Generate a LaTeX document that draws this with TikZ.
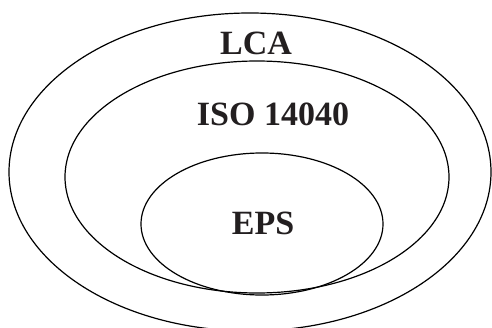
\documentclass[tikz,border=0pt]{standalone}
\usepackage{fontspec}
\setmainfont{Liberation Serif}
\usetikzlibrary{shapes.geometric}
\definecolor{ink}{HTML}{231F20}
\begin{document}
\begin{tikzpicture}[x=1pt,y=1pt,
  ring/.style={ellipse, draw=black, line width=1.2pt, inner sep=0pt},
  lbl/.style={anchor=base, inner sep=0pt, text=ink, font=\fontsize{34}{40}\selectfont\bfseries}]
\useasboundingbox (0,0) rectangle (492,327);
\clip (0,0) rectangle (492,327);
\node[ring, minimum width=482pt, minimum height=318pt] (lca) at (250,155) {};
\node[ring, minimum width=384pt, minimum height=232pt] (iso) at (257,150) {};
\node[ring, minimum width=242pt, minimum height=142pt] (eps) at (262,103) {};
\node[lbl] (tlca) at (256,272) {LCA};
\node[lbl] (tiso) at (273,201) {ISO 14040};
\node[lbl] (teps) at (263,93) {EPS};
\end{tikzpicture}
\end{document}
